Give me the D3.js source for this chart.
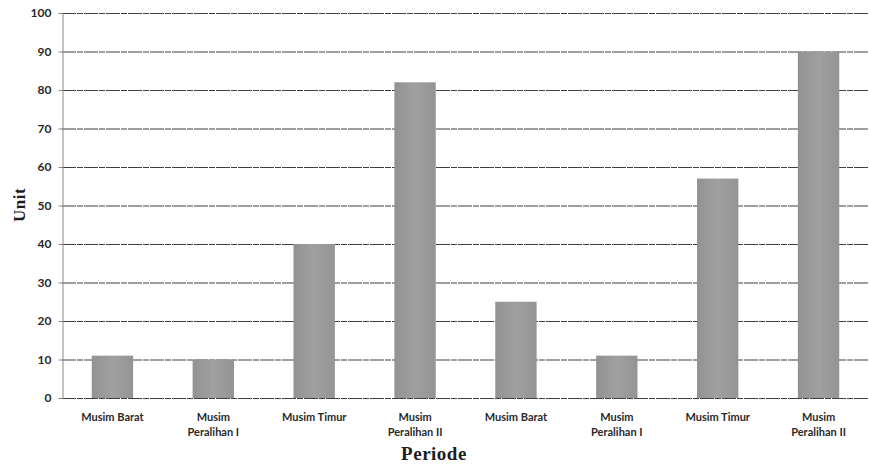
<!DOCTYPE html>
<html>
<head>
<meta charset="utf-8">
<script src="https://cdn.jsdelivr.net/npm/d3@7"></script>
<style>
  html, body { margin: 0; padding: 0; background: #fff; }
  svg { display: block; }
</style>
</head>
<body>
<svg id="chart" width="869" height="468"></svg>
<script>
// Seasonal counts over two consecutive years
const categories = [
  "Musim Barat", "Musim Peralihan I", "Musim Timur", "Musim Peralihan II",
  "Musim Barat", "Musim Peralihan I", "Musim Timur", "Musim Peralihan II"
];
const categoryLines = [
  ["Musim Barat"], ["Musim", "Peralihan I"], ["Musim Timur"], ["Musim", "Peralihan II"],
  ["Musim Barat"], ["Musim", "Peralihan I"], ["Musim Timur"], ["Musim", "Peralihan II"]
];
const values = [11, 10, 40, 82, 25, 11, 57, 90];
const yTicks = [0, 10, 20, 30, 40, 50, 60, 70, 80, 90, 100];
const yTitle = "Unit";
const xTitle = "Periode";

const svg = d3.select("#chart");
const margin = { left: 62, right: 0, top: 13, bottom: 70 };
const width = 869, height = 468;

const x = d3.scaleBand()
  .domain(d3.range(categories.length))
  .range([margin.left, width - margin.right])
  .paddingInner(0.59)
  .paddingOuter(0.295);

const y = d3.scaleLinear().domain([0, 100]).range([398, margin.top]);

const defs = svg.append("defs");
const grad = defs.append("linearGradient")
  .attr("id", "barFill").attr("x1", 0).attr("x2", 1).attr("y1", 0).attr("y2", 0);
grad.append("stop").attr("offset", "0%").attr("stop-color", "#929292");
grad.append("stop").attr("offset", "50%").attr("stop-color", "#a0a0a0");
grad.append("stop").attr("offset", "100%").attr("stop-color", "#949494");

// Horizontal gridlines
svg.append("g")
  .selectAll("line")
  .data(yTicks)
  .join("line")
  .attr("x1", margin.left)
  .attr("x2", width)
  .attr("y1", d => y(d) + 0.5)
  .attr("y2", d => y(d) + 0.5)
  .attr("stroke", "#404040")
  .attr("stroke-width", 1.1)
  .attr("stroke-dasharray", "14 1 6 1");

// Bars
svg.append("g")
  .selectAll("rect")
  .data(values)
  .join("rect")
  .attr("x", (d, i) => x(i))
  .attr("y", d => y(d))
  .attr("width", x.bandwidth())
  .attr("height", d => y(0) - y(d))
  .attr("fill", "url(#barFill)");

// Y axis
const yAxis = d3.axisLeft(y).tickValues(yTicks).tickSize(4).tickPadding(7);
const gy = svg.append("g")
  .attr("transform", `translate(${margin.left + 0.5},0)`)
  .call(yAxis);
gy.select(".domain").attr("stroke", "#8a8a8a");
gy.selectAll(".tick line").attr("stroke", "#8a8a8a");
gy.selectAll(".tick text")
  .attr("fill", "#2a2a2a")
  .style("font-family", "Lato, 'Open Sans', sans-serif")
  .style("font-weight", "bold")
  .style("font-size", "12px");

// X axis labels (wrapped category names)
const gx = svg.append("g");
categoryLines.forEach((lines, i) => {
  const t = gx.append("text")
    .attr("x", x(i) + x.bandwidth() / 2)
    .attr("y", 421)
    .attr("text-anchor", "middle")
    .attr("fill", "#2a2a2a")
    .style("font-family", "Lato, 'Open Sans', sans-serif")
    .style("font-weight", "bold")
    .style("font-size", "11px");
  lines.forEach((line, j) => {
    t.append("tspan")
      .attr("x", x(i) + x.bandwidth() / 2)
      .attr("dy", j === 0 ? 0 : 15)
      .text(line);
  });
});

// Axis titles
svg.append("text")
  .attr("transform", "translate(25,205) rotate(-90)")
  .attr("text-anchor", "middle")
  .attr("fill", "#1e1e1e")
  .style("font-family", "'Liberation Serif', serif")
  .style("font-weight", "bold")
  .style("font-size", "17px")
  .style("letter-spacing", "0.5px")
  .text(yTitle);

svg.append("text")
  .attr("x", 434)
  .attr("y", 460)
  .attr("text-anchor", "middle")
  .attr("fill", "#1e1e1e")
  .style("font-family", "'Liberation Serif', serif")
  .style("font-weight", "bold")
  .style("font-size", "19px")
  .style("letter-spacing", "0.5px")
  .text(xTitle);
</script>
</body>
</html>
